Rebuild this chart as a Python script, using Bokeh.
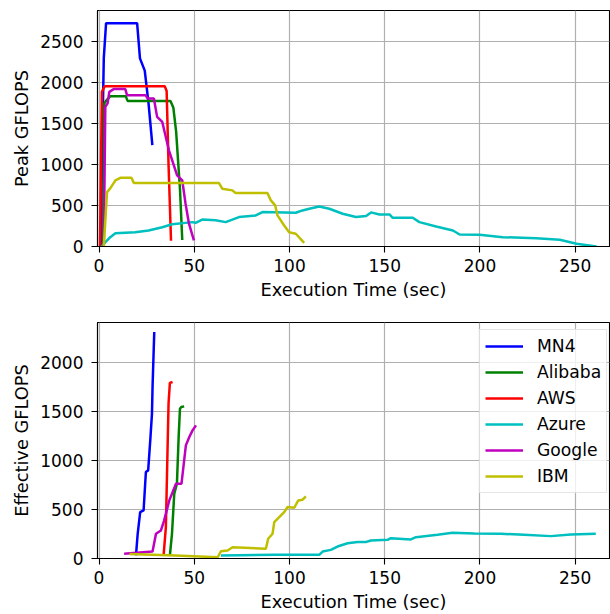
from bokeh.plotting import figure
from bokeh.layouts import column
from bokeh.models import Range1d, FixedTicker, Legend, LegendItem
from bokeh.embed import file_html
from bokeh.resources import INLINE

# ---------------- data: Peak GFLOPS (top) ----------------
mn4_peak_t = [1.0, 1.5, 2.5, 3.7, 20.0, 21.5, 24.0, 26.0, 28.0]
mn4_peak_v = [0, 1000, 2300, 2730, 2730, 2300, 2150, 1750, 1240]

alibaba_peak_t = [2.0, 2.8, 4.0, 6.0, 14.0, 15.0, 37.5, 39.0, 40.5, 41.5, 42.5, 43.7]
alibaba_peak_v = [0, 1750, 1790, 1838, 1838, 1780, 1780, 1700, 1400, 1050, 700, 80]

aws_peak_t = [0.5, 1.5, 3.0, 34.5, 35.5, 36.5, 37.8]
aws_peak_v = [0, 1890, 1960, 1960, 1900, 1000, 70]

azure_peak_t = [1.5, 2.5, 5.9, 8.6, 19.0, 26.0, 33.2, 38.4, 49.0, 50.7, 54.2, 61.2,
                66.5, 73.5, 82.3, 85.8, 103.3, 106.8, 110.4, 115.6, 120.9, 127.9,
                134.9, 140.2, 142.8, 147.2, 152.5, 154.2, 164.7, 168.2, 177.0,
                185.8, 189.3, 199.8, 212.0, 229.6, 241.9, 250.7, 261.2]
azure_peak_v = [0, 33, 114, 163, 175, 196, 235, 272, 298, 290, 330, 320,
                298, 360, 380, 421, 413, 441, 462, 490, 462, 400,
                360, 372, 417, 392, 392, 351, 351, 298, 245,
                196, 147, 143, 114, 102, 82, 33, 0]

google_peak_t = [2.5, 3.3, 4.5, 5.4, 7.7, 13.8, 14.7, 24.4, 25.5, 28.8, 30.5, 33.2,
                 36.7, 41.0, 43.7, 45.4, 47.2, 49.8]
google_peak_v = [0, 1707, 1750, 1891, 1924, 1924, 1850, 1850, 1810, 1810, 1585, 1523,
                 1176, 870, 809, 527, 282, 74]

ibm_peak_t = [2.5, 4.2, 5.9, 8.6, 11.2, 17.0, 18.3, 63.0, 64.7, 70.0, 71.7, 88.4,
              90.2, 92.5, 93.7, 97.2, 99.8, 103.3, 107.7]
ibm_peak_v = [0, 665, 710, 809, 840, 840, 776, 776, 707, 686, 653, 653,
              564, 502, 380, 257, 175, 156, 45]

# ---------------- data: Effective GFLOPS (bottom) ----------------
mn4_eff_t = [19.4, 20.3, 21.6, 23.4, 24.6, 25.8, 26.9, 27.8, 28.1, 29.0]
mn4_eff_v = [31, 252, 473, 490, 881, 898, 1204, 1476, 1748, 2309]

alibaba_eff_t = [37.2, 38.3, 39.5, 40.9, 41.8, 42.5, 43.2, 44.7]
alibaba_eff_v = [31, 252, 660, 762, 1238, 1527, 1544, 1550]

aws_eff_t = [33.9, 35.1, 36.0, 36.5, 37.2, 38.6]
aws_eff_v = [31, 320, 1136, 1578, 1789, 1799]

azure_eff_t = [64.0, 92.0, 115.6, 117.4, 121.7, 125.2, 130.5, 135.7, 140.0, 142.7,
               151.5, 153.2, 163.7, 166.4, 177.7, 185.6, 197.0, 211.0, 223.2,
               237.2, 247.7, 260.8]
azure_eff_v = [31, 37, 37, 71, 88, 122, 156, 167, 167, 184,
               191, 207, 194, 217, 242, 262, 255, 252, 242,
               228, 245, 252]

google_eff_t = [13.2, 28.1, 29.9, 32.5, 34.2, 36.9, 40.4, 43.3, 44.4, 45.6, 47.4, 49.1, 50.9]
google_eff_v = [48, 71, 252, 286, 388, 592, 762, 762, 949, 1153, 1238, 1306, 1357]

ibm_eff_t = [16.0, 40.0, 62.3, 64.0, 67.5, 70.1, 87.6, 88.8, 91.1, 92.0, 94.6, 97.2,
             99.0, 102.5, 104.6, 106.9, 108.6]
ibm_eff_v = [45, 30, 13, 74, 82, 115, 99, 201, 252, 370, 421, 473,
             524, 517, 592, 599, 633]

names = ["MN4", "Alibaba", "AWS", "Azure", "Google", "IBM"]
colors = ["#0000ff", "#008000", "#ff0000", "#00bfbf", "#bf00bf", "#bfbf00"]

x_ticks = [0, 50, 100, 150, 200, 250]
peak_y_ticks = [0, 500, 1000, 1500, 2000, 2500]
eff_y_ticks = [0, 500, 1000, 1500, 2000]

peak_series = [(mn4_peak_t, mn4_peak_v), (alibaba_peak_t, alibaba_peak_v),
               (aws_peak_t, aws_peak_v), (azure_peak_t, azure_peak_v),
               (google_peak_t, google_peak_v), (ibm_peak_t, ibm_peak_v)]
eff_series = [(mn4_eff_t, mn4_eff_v), (alibaba_eff_t, alibaba_eff_v),
              (aws_eff_t, aws_eff_v), (azure_eff_t, azure_eff_v),
              (google_eff_t, google_eff_v), (ibm_eff_t, ibm_eff_v)]

FONT = "DejaVu Sans"
TICK_FS = "17px"
LABEL_FS = "17.8px"
LEGEND_FS = "17.2px"


def make_fig(ymax, yticks, ylabel, top_border, bottom_border):
    p = figure(width=610, height=307, output_backend="svg", toolbar_location=None,
               x_range=Range1d(-0.8, 268.0), y_range=Range1d(0, ymax),
               min_border_left=97, min_border_right=1,
               min_border_top=top_border, min_border_bottom=bottom_border)
    p.background_fill_color = "white"
    p.border_fill_color = "white"
    p.outline_line_color = "black"
    p.outline_line_width = 1.1
    p.xaxis.ticker = FixedTicker(ticks=x_ticks)
    p.yaxis.ticker = FixedTicker(ticks=yticks)
    p.xaxis.axis_label = "Execution Time (sec)"
    p.yaxis.axis_label = ylabel
    for ax in (p.xaxis, p.yaxis):
        ax.axis_label_text_font = FONT
        ax.axis_label_text_font_size = LABEL_FS
        ax.axis_label_text_font_style = "normal"
        ax.axis_label_text_color = "black"
        ax.major_label_text_font = FONT
        ax.major_label_text_font_size = TICK_FS
        ax.major_label_text_color = "black"
        ax.minor_tick_line_color = None
        ax.major_tick_out = 6
        ax.major_tick_in = 0
        ax.major_tick_line_color = "black"
        ax.major_tick_line_width = 1.1
        ax.axis_line_color = "black"
        ax.axis_line_width = 1.1
    p.yaxis.major_label_standoff = 8
    p.yaxis.axis_label_standoff = 5
    p.xaxis.major_label_standoff = 6
    p.xaxis.axis_label_standoff = 4
    p.grid.grid_line_color = "#b0b0b0"
    p.grid.grid_line_width = 1.2
    return p


p1 = make_fig(2885, peak_y_ticks, "Peak GFLOPS", 10, 61)
for (t, v), c in zip(peak_series, colors):
    p1.line(t, v, line_color=c, line_width=2.5)

p2 = make_fig(2405, eff_y_ticks, "Effective GFLOPS", 15, 56)
items = []
for (t, v), c, n in zip(eff_series, colors, names):
    r = p2.line(t, v, line_color=c, line_width=2.5)
    items.append(LegendItem(label=n, renderers=[r]))

legend = Legend(items=items, location=(382, 65), margin=0, padding=5,
                spacing=4, label_height=22, glyph_height=22, glyph_width=38,
                label_standoff=14, label_text_font=FONT, label_text_font_size=LEGEND_FS,
                label_text_color="black", border_line_color="#cccccc",
                border_line_width=1, background_fill_color="white",
                background_fill_alpha=0.8)
p2.add_layout(legend, "center")

layout = column(p1, p2, spacing=0)
open("out.html", "w").write(file_html(layout, INLINE))
